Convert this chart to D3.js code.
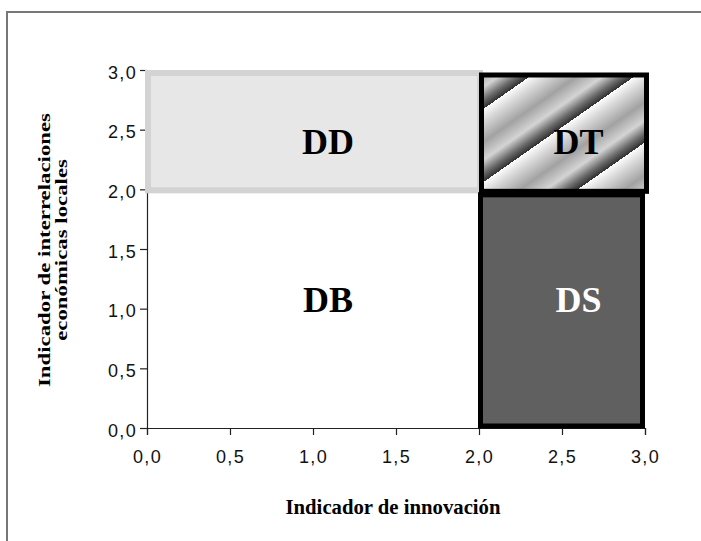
<!DOCTYPE html>
<html>
<head>
<meta charset="utf-8">
<script src="https://cdn.jsdelivr.net/npm/d3@7"></script>
<style>
  body { margin: 0; background: #fff; }
  svg { display: block; }
</style>
</head>
<body>
<div id="chart"></div>
<script>
// cuadrantes
let zonas = ["DD", "DT", "DB", "DS"];
let xDesde = [0, 2, 0, 2];
let xHasta = [2, 3, 2, 3];
let yDesde = [2, 2, 0, 0];
let yHasta = [3, 3, 2, 2];
// donde va la etiqueta de cada zona
let etiquetaX = [1.09, 2.6, 1.09, 2.6];
let etiquetaY = [2.4, 2.4, 1.07, 1.07];

let ticksX = [0, 0.5, 1, 1.5, 2, 2.5, 3];
let ticksY = [0, 0.5, 1, 1.5, 2, 2.5, 3];

let W = 701, H = 541;
let fmt = d => d3.format(".1f")(d).replace(".", ",");
let serif = '"Liberation Serif", "Times New Roman", serif';

let svg = d3.select('#chart')
    .append('svg')
    .attr('width', W)
    .attr('height', H);

let x = d3.scaleLinear().domain([0, 3]).range([147, 645]);
let y = d3.scaleLinear().domain([0, 3]).range([428, 70]);

// marco
svg.append('rect')
    .attr('x', 7).attr('y', 12)
    .attr('width', W).attr('height', H)
    .attr('fill', 'none')
    .attr('stroke', '#777')
    .attr('stroke-width', 2);

// degradado rayado para DT
let defs = svg.append('defs');
let ang = 35 * Math.PI / 180;
let periodo = 60;
let gx = x(2), gy = y(3) + 42;
let grad = defs.append('linearGradient')
    .attr('id', 'rayas')
    .attr('gradientUnits', 'userSpaceOnUse')
    .attr('spreadMethod', 'repeat')
    .attr('x1', gx).attr('y1', gy)
    .attr('x2', gx + periodo * Math.sin(ang))
    .attr('y2', gy + periodo * Math.cos(ang));
[[0, '#fcfcfc'], [0.15, '#dcdcdc'], [0.45, '#a2a2a2'], [0.7, '#d4d4d4'], [0.88, '#6a6a6a'], [1, '#303030']]
    .forEach(s => grad.append('stop').attr('offset', s[0]).attr('stop-color', s[1]));

// ejes
let ejeX = svg.append('g')
    .attr('transform', 'translate(0,' + y(0) + ')')
    .call(d3.axisBottom(x).tickValues(ticksX).tickFormat(fmt).tickSizeOuter(0).tickSize(7).tickPadding(15));
let ejeY = svg.append('g')
    .attr('transform', 'translate(' + x(0) + ',0)')
    .call(d3.axisLeft(y).tickValues(ticksY).tickFormat(fmt).tickSizeOuter(0).tickSize(7).tickPadding(3));
[ejeX, ejeY].forEach(g => {
    g.selectAll('path, line').attr('stroke', '#222').attr('stroke-width', 1.2);
    g.selectAll('text')
        .attr('fill', '#111')
        .style('font-family', '"Liberation Sans", Arial, sans-serif')
        .style('font-size', '18px')
        .style('letter-spacing', '1.3px');
});
ejeY.selectAll('text').attr('dy', '0.45em');

// DD
svg.append('rect')
    .attr('x', x(xDesde[0]) + 1)
    .attr('y', y(yHasta[0]) + 3)
    .attr('width', x(xHasta[0]) - x(xDesde[0]))
    .attr('height', y(yDesde[0]) - y(yHasta[0]) - 2)
    .attr('fill', '#e7e7e7')
    .attr('stroke', '#d3d3d3')
    .attr('stroke-width', 6);

// DT
svg.append('rect')
    .attr('x', x(xDesde[1]) + 2.5)
    .attr('y', y(yHasta[1]) + 5)
    .attr('width', x(xHasta[1]) - x(xDesde[1]) - 1)
    .attr('height', y(yDesde[1]) - y(yHasta[1]) - 3)
    .attr('fill', 'url(#rayas)')
    .attr('stroke', '#000')
    .attr('stroke-width', 5);

// DS
svg.append('rect')
    .attr('x', x(xDesde[3]) + 1.5)
    .attr('y', y(yHasta[3]) + 5.5)
    .attr('width', x(xHasta[3]) - x(xDesde[3]) - 4)
    .attr('height', y(yDesde[3]) - y(yHasta[3]) - 7.5)
    .attr('fill', '#606060')
    .attr('stroke', '#000')
    .attr('stroke-width', 5);

// etiquetas de zonas
svg.selectAll('text.zona')
    .data(zonas)
    .enter()
    .append('text')
    .attr('class', 'zona')
    .attr('x', (d, i) => x(etiquetaX[i]))
    .attr('y', (d, i) => y(etiquetaY[i]))
    .attr('text-anchor', 'middle')
    .attr('dominant-baseline', 'central')
    .attr('fill', d => d == 'DS' ? '#fff' : '#000')
    .style('font-family', serif)
    .style('font-weight', 'bold')
    .style('font-size', '36px')
    .text(d => d);

// titulos
svg.append('text')
    .attr('x', 393).attr('y', 514)
    .attr('text-anchor', 'middle')
    .attr('textLength', 215)
    .attr('lengthAdjust', 'spacingAndGlyphs')
    .style('font-family', serif)
    .style('font-weight', 'bold')
    .style('font-size', '22px')
    .text('Indicador de innovación');

let ty = svg.append('text')
    .attr('transform', 'translate(50,250) rotate(-90)')
    .attr('text-anchor', 'middle')
    .style('font-family', serif)
    .style('font-weight', 'bold')
    .style('font-size', '17px');
let l1 = ty.append('tspan').attr('x', 0).attr('y', 0).text('Indicador de interrelaciones');
let l2 = ty.append('tspan').attr('x', 0).attr('y', 17).text('económicas locales');
// el original viene estirado a lo largo del texto
let k = 274 / l1.node().getComputedTextLength();
l1.attr('textLength', 274).attr('lengthAdjust', 'spacingAndGlyphs');
l2.attr('textLength', l2.node().getComputedTextLength() * k).attr('lengthAdjust', 'spacingAndGlyphs');
</script>
</body>
</html>
